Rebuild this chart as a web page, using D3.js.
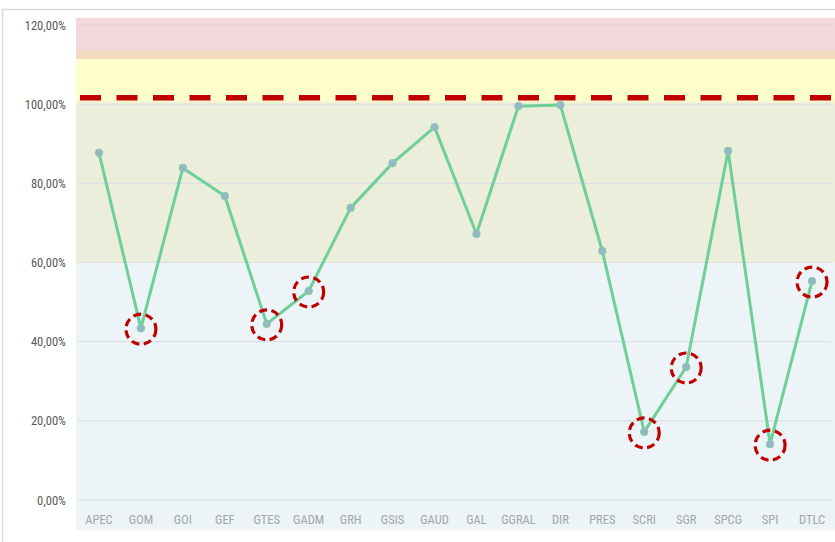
<!DOCTYPE html>
<html>
<head>
<meta charset="utf-8">
<script src="https://cdn.jsdelivr.net/npm/d3@7"></script>
<style>
  body { margin: 0; background: #fff; }
  svg { display: block; }
  .tick text { font-family: "Liberation Sans Narrow", "Roboto Condensed", "Liberation Sans", Arial, sans-serif; }
</style>
</head>
<body>
<svg id="chart" width="835" height="542"></svg>
<script>
// data ------------------------------------------------
const categories = ['APEC', 'GOM', 'GOI', 'GEF', 'GTES', 'GADM', 'GRH', 'GSIS', 'GAUD',
  'GAL', 'GGRAL', 'DIR', 'PRES', 'SCRI', 'SGR', 'SPCG', 'SPI', 'DTLC'];
const values = [87.7, 43.4, 83.9, 76.8, 44.5, 52.8, 73.8, 85.1, 94.2,
  67.2, 99.5, 99.8, 62.9, 17.2, 33.6, 88.2, 14.1, 55.3];
// categories flagged with a red dashed circle
const flagged = ['GOM', 'GTES', 'GADM', 'SCRI', 'SGR', 'SPI', 'DTLC'];
const yTicks = [0, 20, 40, 60, 80, 100, 120];
// background zones (from, to) in %
const zones = [
  { from: 113.7, to: 121.8, color: '#f2d8da' },
  { from: 111.4, to: 113.7, color: '#f3d9bf' },
  { from: 101.0, to: 111.4, color: '#ffffcc' },
  { from: 100.0, to: 101.0, color: '#f6f5cf' },
  { from: 60.0, to: 100.0, color: '#ebeedb' },
  { from: -7.6, to: 60.0, color: '#ecf4f7' }
];
const target = 101.6;

// layout -----------------------------------------------
const svg = d3.select('#chart');
const left = 78, right = 833;
const zoneLeft = 76;

const x = d3.scaleBand()
  .domain(categories)
  .range([left, right]);

const y = d3.scaleLinear()
  .domain([0, 120])
  .range([500, 25]);

// chart frame
svg.append('rect')
  .attr('x', 2.5).attr('y', 9.5)
  .attr('width', 860).attr('height', 560)
  .attr('fill', '#fff')
  .attr('stroke', '#d9d9d9')
  .attr('stroke-width', 1.5);

// zones
svg.append('g')
  .selectAll('rect')
  .data(zones)
  .join('rect')
    .attr('x', zoneLeft)
    .attr('width', right - zoneLeft + 2)
    .attr('y', d => y(d.to))
    .attr('height', d => y(d.from) - y(d.to))
    .attr('fill', d => d.color);

// gridlines
svg.append('g')
  .selectAll('line')
  .data(yTicks)
  .join('line')
    .attr('x1', zoneLeft + 2).attr('x2', right - 2)
    .attr('y1', d => y(d)).attr('y2', d => y(d))
    .attr('stroke', d => d == 120 ? '#e6cbcd' : '#d9dfe3')
    .attr('stroke-width', 1.2);

// y axis
const yAxis = d3.axisLeft(y)
  .tickValues(yTicks)
  .tickSize(0)
  .tickPadding(0)
  .tickFormat(d => d3.format('.2f')(d).replace('.', ',') + '%');

svg.append('g')
  .attr('transform', 'translate(66,0)')
  .call(yAxis)
  .call(g => g.select('.domain').remove())
  .selectAll('text')
    .attr('fill', '#595959')
    .style('font-size', '12.5px');

// x axis
const xAxis = d3.axisBottom(x).tickSize(0).tickPadding(0);
svg.append('g')
  .attr('transform', 'translate(0,515)')
  .call(xAxis)
  .call(g => g.select('.domain').remove())
  .selectAll('text')
    .attr('fill', '#a6a6a6')
    .attr('dy', '0.75em')
    .style('font-size', '12.5px');

// target line
svg.append('line')
  .attr('x1', zoneLeft + 4).attr('x2', right)
  .attr('y1', y(target)).attr('y2', y(target))
  .attr('stroke', '#c00000')
  .attr('stroke-width', 5.5)
  .attr('stroke-dasharray', '21,15.5');

// series
const cx = d => x(d) + x.bandwidth() / 2;
const points = categories.map((c, i) => ({ cat: c, value: values[i] }));

const line = d3.line()
  .x(d => cx(d.cat))
  .y(d => y(d.value));

svg.append('path')
  .datum(points)
  .attr('fill', 'none')
  .attr('stroke', '#6fcf98')
  .attr('stroke-width', 3)
  .attr('stroke-linejoin', 'round')
  .attr('d', line);

svg.append('g')
  .selectAll('circle')
  .data(points)
  .join('circle')
    .attr('cx', d => cx(d.cat))
    .attr('cy', d => y(d.value))
    .attr('r', 3.8)
    .attr('fill', '#96b6c6')
    .attr('stroke', '#7fcfa6')
    .attr('stroke-width', 0.8);

// red dashed circles on flagged points
svg.append('g')
  .selectAll('circle')
  .data(points.filter(d => flagged.includes(d.cat)))
  .join('circle')
    .attr('cx', d => cx(d.cat))
    .attr('cy', d => y(d.value) + 1)
    .attr('r', 15)
    .attr('fill', 'none')
    .attr('stroke', '#c00000')
    .attr('stroke-width', 3.2)
    .attr('stroke-dasharray', '8,4.5');
</script>
</body>
</html>
